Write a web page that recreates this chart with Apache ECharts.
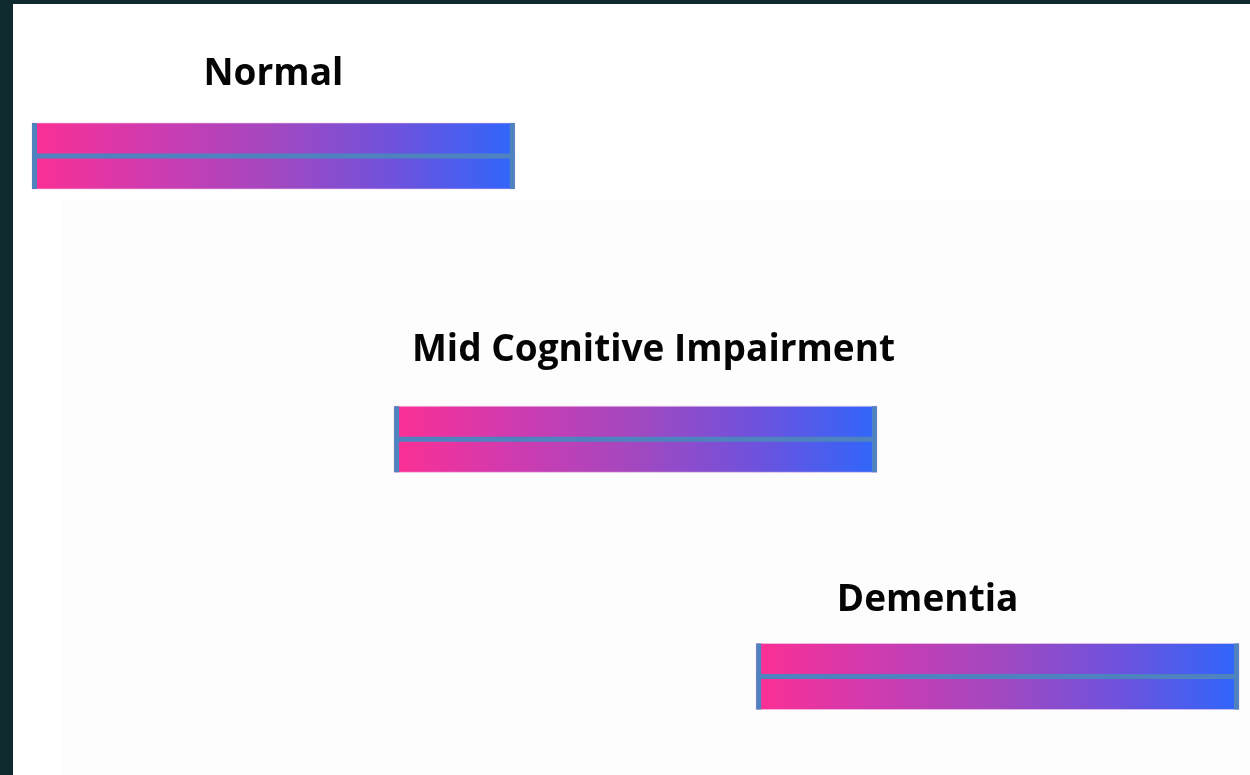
<!DOCTYPE html>
<html>
<head>
<meta charset="utf-8">
<title>Stages of cognitive decline</title>
<script src="https://cdn.jsdelivr.net/npm/echarts@6/dist/echarts.min.js"></script>
<style>
  html, body { margin: 0; padding: 0; background: #0f2a2e; width: 1250px; height: 775px; overflow: hidden; }
  #chart { position: absolute; left: 13px; top: 4px; width: 1237px; height: 771px; background: #ffffff; }
</style>
</head>
<body>
<div id="chart"></div>
<script>
// Stages along the progression scale (overlapping ranges)
const stages = ['Normal', 'Mid Cognitive Impairment', 'Dementia'];
const stageStart = [0, 3, 6];
const stageEnd = [4, 7, 10];

// Layout tweaks per row: vertical nudge of the bar, label offset from bar centre
const rowNudge = [0, 23, 0];
const labelDx = [0, 18, -70];
const labelDy = [-82, -89, -76];

const BAR_H = 66;
const CAP_W = 5;
const LINE_W = 5;
const EDGE = '#4f83c0';

const chart = echarts.init(document.getElementById('chart'), null, { renderer: 'canvas' });

const data = stages.map((s, i) => [stageStart[i], stageEnd[i], i]);

chart.setOption({
  backgroundColor: '#ffffff',
  animation: false,
  grid: { left: 19, right: 11, top: 152, bottom: 98.5 },
  graphic: [{
    type: 'rect',
    shape: { x: 49, y: 196, width: 1190, height: 580 },
    style: { fill: '#fdfdfd' },
    z: -10
  }],
  xAxis: {
    type: 'value', min: 0, max: 10, show: false
  },
  yAxis: {
    type: 'category', data: stages, inverse: true, boundaryGap: false, show: false
  },
  series: [{
    type: 'custom',
    data: data,
    encode: { x: [0, 1], y: 2 },
    renderItem: function (params, api) {
      const i = api.value(2);
      const p0 = api.coord([api.value(0), i]);
      const p1 = api.coord([api.value(1), i]);
      const cy = p0[1] + rowNudge[i];
      const x0 = p0[0], x1 = p1[0];
      const w = x1 - x0;
      const top = cy - BAR_H / 2;
      return {
        type: 'group',
        children: [
          {
            type: 'rect',
            shape: { x: x0, y: top, width: w, height: BAR_H },
            style: {
              fill: new echarts.graphic.LinearGradient(0, 0, 1, 0, [
                { offset: 0, color: '#fc2f94' },
                { offset: 0.25, color: '#cf3bb0' },
                { offset: 0.5, color: '#a348c0' },
                { offset: 0.75, color: '#6e52dd' },
                { offset: 1, color: '#2f66fb' }
              ]),
              stroke: 'rgba(240,200,230,0.6)',
              lineWidth: 1
            }
          },
          {
            type: 'rect',
            shape: { x: x0, y: cy - LINE_W / 2, width: w, height: LINE_W },
            style: { fill: EDGE }
          },
          {
            type: 'rect',
            shape: { x: x0, y: top, width: CAP_W, height: BAR_H },
            style: { fill: EDGE }
          },
          {
            type: 'rect',
            shape: { x: x1 - CAP_W, y: top, width: CAP_W, height: BAR_H },
            style: { fill: EDGE }
          },
          {
            type: 'text',
            style: {
              x: (x0 + x1) / 2 + labelDx[i],
              y: cy + labelDy[i],
              text: stages[i],
              align: 'center',
              verticalAlign: 'middle',
              fontFamily: 'Open Sans',
              fontWeight: 'bold',
              fontSize: 37,
              fill: '#050505'
            }
          }
        ]
      };
    }
  }]
});
</script>
</body>
</html>
